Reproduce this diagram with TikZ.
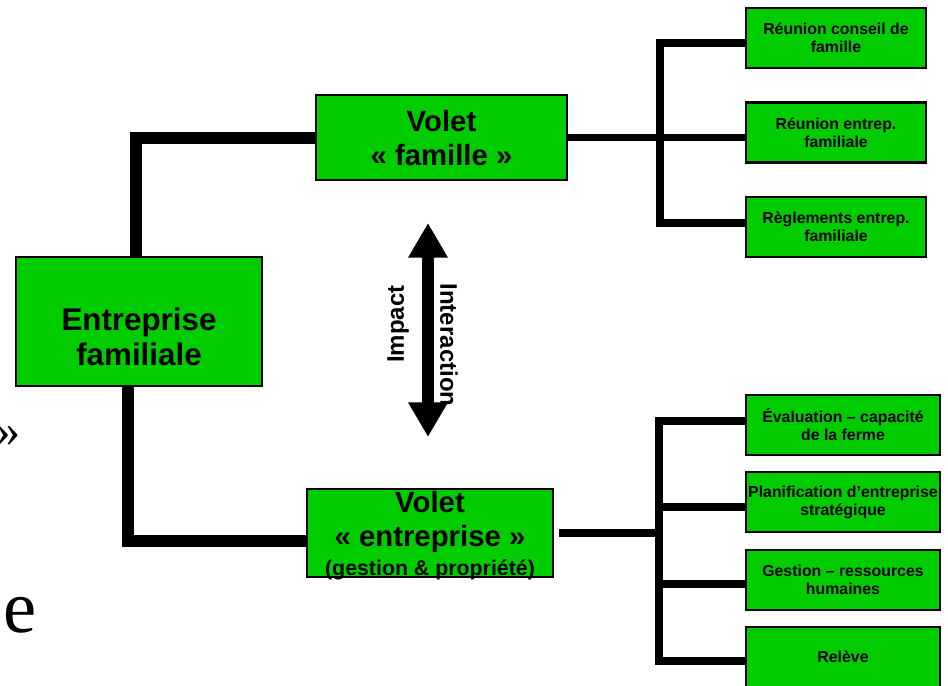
\documentclass[tikz,border=0pt]{standalone}
\usepackage{fontspec}
\setmainfont{Liberation Sans}
\newfontfamily\slideserif{Liberation Serif}
\usetikzlibrary{arrows.meta,calc}
\definecolor{voletgreen}{RGB}{0,204,0}

\tikzset{every picture/.style={line width=0.75pt}}
\tikzset{
  bigbox/.style={draw, line width=2.2pt, fill=voletgreen, inner sep=0pt},
  smallbox/.style={draw, line width=2pt, fill=voletgreen, inner sep=0pt, align=center,
    font=\fontsize{11.9}{13.5}\selectfont\bfseries},
  bigtxt/.style={align=center, inner sep=0pt, font=\fontsize{22}{25.5}\selectfont\bfseries},
  sidetxt/.style={inner sep=0pt, font=\fontsize{18}{20}\selectfont\bfseries},
  link/.style={line width=9pt, line join=miter},
  twig/.style={line width=5.5pt, line join=miter},
  dblarrow/.style={line width=9pt, <->, >={Triangle[width=28pt,length=26pt]}},
}

\begin{document}
\begin{tikzpicture}[x=0.75pt,y=0.75pt,yscale=-1,xscale=1]
    \clip (0,0) rectangle (948,685);
    \fill[white] (0,0) rectangle (948,685);

    % leftovers of the slide behind
    \node[anchor=east, inner sep=0pt, font=\slideserif\fontsize{36}{36}\selectfont] (guill) at (21,437) {»};
    \node[anchor=base west, inner sep=0pt, font=\slideserif\fontsize{56}{56}\selectfont] (lettre) at (3,632) {e};

    % main boxes
    \node[bigbox, minimum width=184.5pt, minimum height=96.75pt] (entfam) at (139,321.5) {};
    \node[bigtxt, font=\fontsize{23.5}{26}\selectfont\bfseries] (entfamtxt) at (139,336.5) {Entreprise\\familiale};
    \node[bigbox, minimum width=188.25pt, minimum height=63.75pt] (vfam) at (441.5,137.5) {};
    \node[bigtxt] (vfamtxt) at (441.5,138.3) {Volet\\« famille »};
    \node[bigbox, minimum width=184.5pt, minimum height=66pt] (vent) at (430,533) {};
    \node[bigtxt] (venttxt) at (430,522) {Volet\\« entreprise »};
    \node[anchor=base, inner sep=0pt, font=\fontsize{16}{18}\selectfont\bfseries] (gesttxt) at (430,575) {(gestion \& propriété)};

    % family side
    \node[smallbox, minimum width=135pt, minimum height=45pt] (reunA) at (836,38) {Réunion conseil de\\famille};
    \node[smallbox, minimum width=135pt, minimum height=45pt] (reunB) at (836,132.5) {Réunion entrep.\\familiale};
    \node[smallbox, minimum width=135pt, minimum height=45pt] (regl) at (836,227) {Règlements entrep.\\familiale};

    % business side
    \node[smallbox, minimum width=145.5pt, minimum height=45pt] (evalu) at (843,425) {Évaluation – capacité\\de la ferme};
    \node[smallbox, minimum width=145.5pt, minimum height=45pt] (planif) at (843,502) {Planification d’entreprise\\stratégique};
    \node[smallbox, minimum width=145.5pt, minimum height=45pt] (gestrh) at (843,580) {Gestion – ressources\\humaines};
    \node[smallbox, minimum width=145.5pt, minimum height=45pt] (releve) at (843,657) {Relève};

    % left links
    \draw[link] ($(entfam.north)+(-3,0)$) |- (vfam.west);
    \draw[link] ($(entfam.south)+(-11,0)$) |- ($(vent.west)+(0,8)$);

    % upper fork
    \coordinate (upfork) at (660,137.5);
    \coordinate (uptop) at (660,43);
    \coordinate (upbot) at (660,223);
    \draw[twig] (vfam.east) -- (upfork);
    \draw[twig] (uptop -| reunA.west) -- (uptop) -- (upbot) -- (upbot -| regl.west);
    \draw[twig] (upfork) -- (upfork -| reunB.west);

    % lower fork
    \coordinate (lofork) at (659,533);
    \coordinate (lotop) at (659,421);
    \coordinate (lomid) at (659,507);
    \coordinate (lomidb) at (659,584);
    \coordinate (lobot) at (659,661);
    \draw[twig] ($(vent.east)+(5,0)$) -- (lofork);
    \draw[twig] (lotop -| evalu.west) -- (lotop) -- (lobot) -- (lobot -| releve.west);
    \draw[twig] (lomid) -- (lomid -| planif.west);
    \draw[twig] (lomidb) -- (lomidb -| gestrh.west);

    % impact arrow
    \coordinate (arrtop) at (428,223);
    \coordinate (arrbot) at (428,437);
    \draw[dblarrow] (arrtop) -- (arrbot);
    \node[sidetxt, rotate=90] (impact) at (398,324) {Impact};
    \node[sidetxt, rotate=-90] (interac) at (449,345) {Interaction};

\end{tikzpicture}
\end{document}
